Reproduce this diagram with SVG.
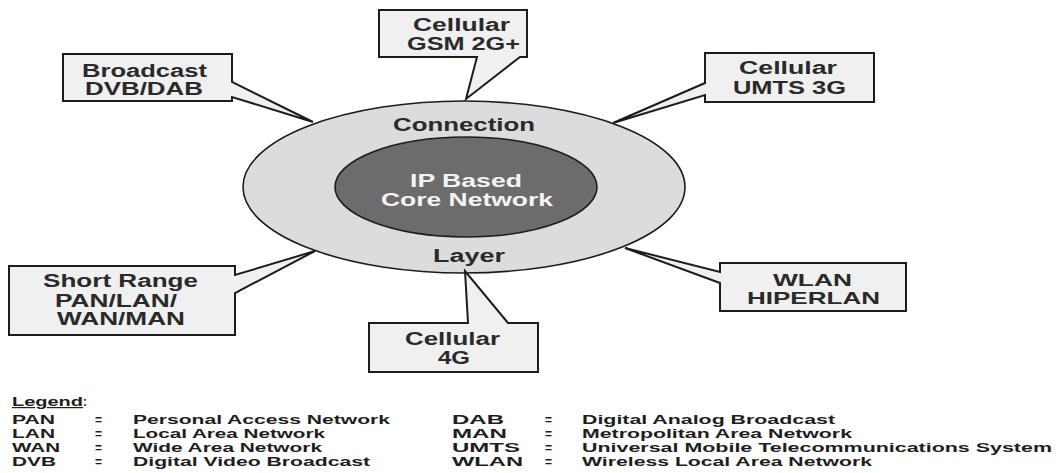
<svg xmlns="http://www.w3.org/2000/svg" width="1058" height="473" viewBox="0 0 1058 473">
<style>
.box{fill:#f0f0f0;stroke:#1c1c1c;stroke-width:2;stroke-linejoin:miter}
.t{font-family:"Liberation Sans",Arial,sans-serif;font-weight:bold;font-size:18px;fill:#2a2a2a}
.s{font-size:17px}
.w{fill:#f4f4f4}
.lg{font-family:"Liberation Sans",Arial,sans-serif;font-weight:bold;font-size:12px;fill:#1e1e1e}
</style>
<rect width="1058" height="473" fill="#ffffff"/>
<g id="core">
<ellipse cx="464" cy="187" rx="221" ry="86" fill="#dcdcdc" stroke="#1c1c1c" stroke-width="1.6"/>
<text class="t" x="393" y="131" textLength="142" lengthAdjust="spacingAndGlyphs">Connection</text>
<text class="t" x="433" y="262" textLength="72" lengthAdjust="spacingAndGlyphs">Layer</text>
<ellipse cx="466" cy="187" rx="131" ry="50" fill="#6c6c6c" stroke="#1c1c1c" stroke-width="1.6"/>
<text class="t w" x="410" y="187" textLength="112" lengthAdjust="spacingAndGlyphs">IP Based</text>
<text class="t w" x="381" y="206" textLength="172" lengthAdjust="spacingAndGlyphs">Core Network</text>
</g>
<g id="connectors"></g>
<g id="gsm">
<path class="box" d="M379,10 H527 V57 H520 L466,99 L477,57 H379 Z"/>
<text class="t" x="413" y="31" textLength="97" lengthAdjust="spacingAndGlyphs">Cellular</text>
<text class="t" x="407" y="50" textLength="113" lengthAdjust="spacingAndGlyphs">GSM 2G+</text>
</g>
<g id="broadcast">
<path class="box" d="M63,54 H232 V82 L313,122 L232,97 V101 H63 Z"/>
<text class="t" x="82" y="77" textLength="125" lengthAdjust="spacingAndGlyphs">Broadcast</text>
<text class="t" x="85" y="95" textLength="118" lengthAdjust="spacingAndGlyphs">DVB/DAB</text>
</g>
<g id="umts">
<path class="box" d="M705,53 H874 V102 H705 V95 L613,123 L705,83 Z"/>
<text class="t" x="739" y="74" textLength="98" lengthAdjust="spacingAndGlyphs">Cellular</text>
<text class="t" x="733" y="94" textLength="113" lengthAdjust="spacingAndGlyphs">UMTS 3G</text>
</g>
<g id="shortrange">
<path class="box" d="M9,266 H235 V275 L315,251 L235,293 V335 H9 Z"/>
<text class="t" x="43" y="287" textLength="155" lengthAdjust="spacingAndGlyphs">Short Range</text>
<text class="t" x="55" y="307" textLength="122" lengthAdjust="spacingAndGlyphs">PAN/LAN/</text>
<text class="t" x="57" y="325" textLength="128" lengthAdjust="spacingAndGlyphs">WAN/MAN</text>
</g>
<g id="cellular4g">
<path class="box" d="M369,323 H468 L465,271 L508,323 H538 V372 H369 Z"/>
<text class="t" x="405" y="345" textLength="95" lengthAdjust="spacingAndGlyphs">Cellular</text>
<text class="t" x="438" y="364" textLength="32" lengthAdjust="spacingAndGlyphs">4G</text>
</g>
<g id="wlan">
<path class="box" d="M720,263 H906 V311 H720 V283 L625,248 L720,272 Z"/>
<text class="t s" x="773" y="286" textLength="79" lengthAdjust="spacingAndGlyphs">WLAN</text>
<text class="t s" x="747" y="304" textLength="133" lengthAdjust="spacingAndGlyphs">HIPERLAN</text>
</g>
<g id="legend">
<text class="lg" x="12" y="406"><tspan text-decoration="underline" textLength="71" lengthAdjust="spacingAndGlyphs">Legend</tspan><tspan>:</tspan></text>
<text class="lg" x="12" y="424" textLength="43" lengthAdjust="spacingAndGlyphs">PAN</text>
<text class="lg" x="12" y="438" textLength="43" lengthAdjust="spacingAndGlyphs">LAN</text>
<text class="lg" x="12" y="452" textLength="48" lengthAdjust="spacingAndGlyphs">WAN</text>
<text class="lg" x="12" y="466" textLength="44" lengthAdjust="spacingAndGlyphs">DVB</text>
<text class="lg" x="95" y="424">=</text>
<text class="lg" x="95" y="438">=</text>
<text class="lg" x="95" y="452">=</text>
<text class="lg" x="95" y="466">=</text>
<text class="lg" x="133" y="424" textLength="257" lengthAdjust="spacingAndGlyphs">Personal Access Network</text>
<text class="lg" x="133" y="438" textLength="192" lengthAdjust="spacingAndGlyphs">Local Area Network</text>
<text class="lg" x="133" y="452" textLength="189" lengthAdjust="spacingAndGlyphs">Wide Area Network</text>
<text class="lg" x="133" y="466" textLength="237" lengthAdjust="spacingAndGlyphs">Digital Video Broadcast</text>
<text class="lg" x="452" y="424" textLength="52" lengthAdjust="spacingAndGlyphs">DAB</text>
<text class="lg" x="452" y="438" textLength="55" lengthAdjust="spacingAndGlyphs">MAN</text>
<text class="lg" x="452" y="452" textLength="68" lengthAdjust="spacingAndGlyphs">UMTS</text>
<text class="lg" x="452" y="466" textLength="71" lengthAdjust="spacingAndGlyphs">WLAN</text>
<text class="lg" x="545" y="424">=</text>
<text class="lg" x="545" y="438">=</text>
<text class="lg" x="545" y="452">=</text>
<text class="lg" x="545" y="466">=</text>
<text class="lg" x="582" y="424" textLength="253" lengthAdjust="spacingAndGlyphs">Digital Analog Broadcast</text>
<text class="lg" x="582" y="438" textLength="270" lengthAdjust="spacingAndGlyphs">Metropolitan Area Network</text>
<text class="lg" x="582" y="452" textLength="470" lengthAdjust="spacingAndGlyphs">Universal Mobile Telecommunications System</text>
<text class="lg" x="582" y="466" textLength="290" lengthAdjust="spacingAndGlyphs">Wireless Local Area Network</text>
</g>
</svg>
